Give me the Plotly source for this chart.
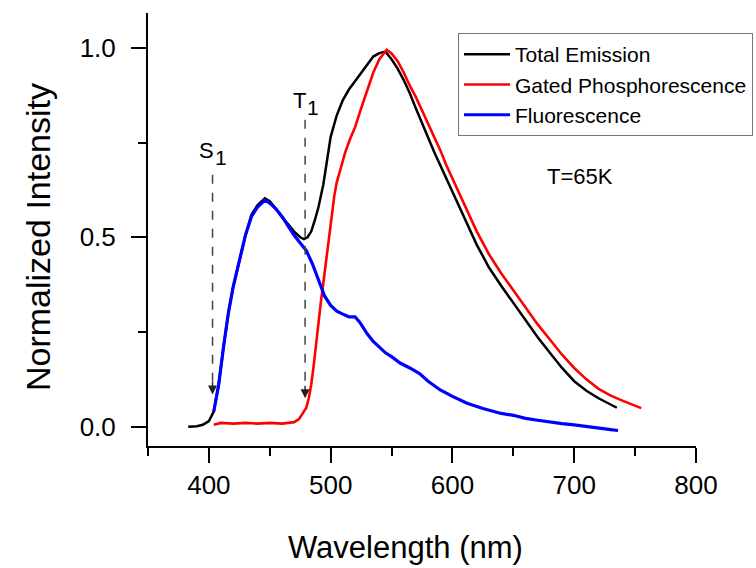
import plotly.graph_objects as go

# ---- data ----
total_x = [383, 390, 395, 400, 404, 408, 412, 416, 420, 425, 430, 435, 440, 446, 450, 455, 460, 465,
           470, 475, 478, 481, 484, 487, 490, 494, 497, 500, 505, 510, 515, 520, 525, 530, 535, 540,
           545, 550, 555, 560, 565, 570, 575, 580, 585, 590, 595, 600, 605, 610, 615, 620, 625, 630,
           640, 650, 660, 670, 680, 690, 700, 710, 720, 730, 735]
total_y = [0.0, 0.001, 0.005, 0.015, 0.04, 0.11, 0.21, 0.30, 0.37, 0.44, 0.505, 0.56, 0.585, 0.603,
           0.595, 0.575, 0.553, 0.535, 0.515, 0.50, 0.495, 0.50, 0.515, 0.545, 0.58, 0.64, 0.70,
           0.765, 0.822, 0.862, 0.89, 0.912, 0.935, 0.957, 0.977, 0.986, 0.99, 0.97, 0.945, 0.915, 0.88,
           0.84, 0.80, 0.76, 0.725, 0.69, 0.655, 0.62, 0.585, 0.55, 0.515, 0.48, 0.45, 0.42,
           0.372, 0.326, 0.28, 0.236, 0.195, 0.155, 0.12, 0.095, 0.075, 0.058, 0.05]

gated_x = [404, 410, 420, 430, 440, 450, 460, 470, 474, 477, 480, 482, 484, 486, 488, 490, 492, 494,
           497, 500, 503, 505, 508, 512, 516, 520, 525, 530, 535, 540, 546, 550, 555, 560, 565, 570,
           575, 580, 585, 590, 595, 600, 605, 610, 615, 620, 625, 630, 640, 650, 660, 670, 680, 690,
           700, 710, 720, 730, 740, 750, 755]
gated_y = [0.005, 0.01, 0.008, 0.01, 0.008, 0.01, 0.008, 0.012, 0.02, 0.035, 0.05, 0.075, 0.11, 0.16,
           0.22, 0.28, 0.33, 0.38, 0.46, 0.54, 0.61, 0.645, 0.68, 0.725, 0.76, 0.79, 0.84, 0.89, 0.935,
           0.97, 0.995, 0.985, 0.965, 0.935, 0.90, 0.87, 0.835, 0.80, 0.765, 0.73, 0.69, 0.655, 0.62,
           0.585, 0.55, 0.515, 0.485, 0.455, 0.405, 0.361, 0.315, 0.27, 0.23, 0.19, 0.155, 0.125, 0.10,
           0.082, 0.068, 0.055, 0.049]

fluor_x = [404, 408, 412, 416, 420, 425, 430, 435, 440, 446, 450, 455, 460, 465, 470, 475, 480, 485,
           490, 495, 500, 505, 510, 515, 520, 524, 530, 535, 540, 545, 550, 557, 565, 573, 580, 590,
           600, 612, 625, 640, 650, 660, 670, 680, 690, 700, 710, 720, 730, 736]
fluor_y = [0.04, 0.11, 0.21, 0.30, 0.37, 0.44, 0.505, 0.555, 0.58, 0.598, 0.59, 0.575, 0.555, 0.53,
           0.505, 0.485, 0.465, 0.43, 0.39, 0.345, 0.32, 0.305, 0.297, 0.29, 0.29, 0.275, 0.245, 0.225,
           0.21, 0.195, 0.185, 0.168, 0.155, 0.14, 0.12, 0.097, 0.08, 0.062, 0.048, 0.035, 0.03, 0.022,
           0.017, 0.012, 0.008, 0.005, 0.0, -0.004, -0.008, -0.01]

series_names = ["Total Emission", "Gated Phosphorescence", "Fluorescence"]
series_colors = ["#000000", "#ff0000", "#0000ff"]

# state markers: label, wavelength, arrow start / tip intensity, label intensity
state_labels = ["S", "T"]
state_x = [403, 479]
state_y0 = [0.665, 0.81]
state_y1 = [0.085, 0.075]
state_label_y = [0.73, 0.86]

FONT = "Liberation Sans, Arial, sans-serif"

fig = go.Figure()
for xs, ys, name, col, w in zip([total_x, gated_x, fluor_x], [total_y, gated_y, fluor_y],
                                series_names, series_colors, [2.5, 2.6, 3.2]):
    fig.add_trace(go.Scatter(x=xs, y=ys, mode="lines", name=name,
                             line=dict(color=col, width=w)))

for lab, sx, y0, y1, ly in zip(state_labels, state_x, state_y0, state_y1, state_label_y):
    fig.add_shape(type="line", x0=sx, x1=sx, y0=y0, y1=y1 + 0.02, xref="x", yref="y",
                  line=dict(color="#444444", width=1.5, dash="dash"))
    fig.add_annotation(x=sx, y=y1, xref="x", yref="y", ax=0, ay=-14, text="",
                       showarrow=True, arrowhead=2, arrowsize=1.3, arrowwidth=1.4,
                       arrowcolor="#222222")
    fig.add_annotation(x=sx, y=ly, xref="x", yref="y", text=lab, showarrow=False,
                       xshift=-6, font=dict(family=FONT, size=22, color="black"))
    fig.add_annotation(x=sx, y=ly, xref="x", yref="y", text="1", showarrow=False,
                       xshift=8, yshift=-7, font=dict(family=FONT, size=21, color="black"))

fig.add_annotation(x=705, y=0.661, xref="x", yref="y", text="T=65K", showarrow=False,
                   font=dict(family=FONT, size=22, color="black"))

# axis titles as paper-positioned annotations
fig.add_annotation(x=(405 - 148) / 548, y=-(547 - 446) / 433, xref="paper", yref="paper",
                   text="Wavelength (nm)", showarrow=False, xanchor="center", yanchor="middle",
                   font=dict(family=FONT, size=31, color="black"))
fig.add_annotation(x=-(148 - 38) / 548, y=(446 - 237) / 433, xref="paper", yref="paper",
                   text="Normalized Intensity", showarrow=False, textangle=-90,
                   xanchor="center", yanchor="middle",
                   font=dict(family=FONT, size=34, color="black"))

axis_common = dict(showline=True, linecolor="black", linewidth=2, ticks="outside",
                   tickwidth=2, ticklen=15, tickcolor="black", showgrid=False, zeroline=False,
                   tickfont=dict(family=FONT, size=26, color="black"), mirror=False)

fig.update_xaxes(range=[350, 800], tickvals=[400, 500, 600, 700, 800],
                 minor=dict(ticks="outside", ticklen=8, tickwidth=2, tickcolor="black", dtick=50,
                            tick0=350),
                 **axis_common)
fig.update_yaxes(range=[-0.051, 1.092], tickvals=[0.0, 0.5, 1.0], ticktext=["0.0", "0.5", "1.0"],
                 minor=dict(ticks="outside", ticklen=8, tickwidth=2, tickcolor="black", dtick=0.25,
                            tick0=0),
                 ticklabelstandoff=10,
                 **axis_common)

fig.update_layout(
    width=756, height=568,
    margin=dict(l=148, r=60, t=13, b=122, autoexpand=False),
    paper_bgcolor="white", plot_bgcolor="white",
    showlegend=True,
    legend=dict(x=(458 - 148) / 548, y=(446 - 33) / 433, xref="paper", yref="paper",
                xanchor="left", yanchor="top", bgcolor="white",
                bordercolor="#777777", borderwidth=1,
                font=dict(family=FONT, size=21, color="black"),
                tracegroupgap=0, itemwidth=46),
)

fig.write_html("out.html")
